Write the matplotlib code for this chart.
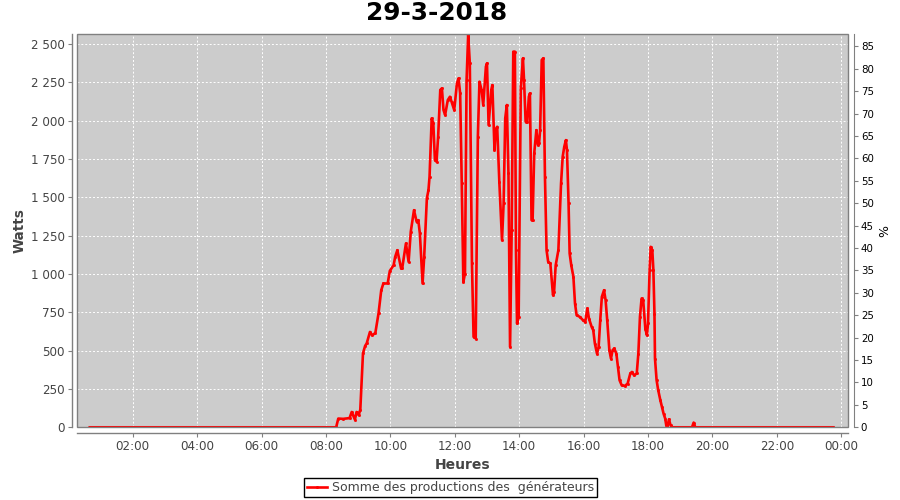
import matplotlib
matplotlib.use("Agg")
import matplotlib.pyplot as plt
from matplotlib.ticker import FixedLocator, FuncFormatter
from matplotlib.patches import Rectangle
from matplotlib.lines import Line2D

plt.rcParams['font.family'] = ['DejaVu Sans']

title = "29-3-2018"
series_label = "Somme des productions des  générateurs"

times = ["00:40", "08:19", "08:23", "08:32", "08:44", "08:48", "08:54", "08:57", "09:01", "09:04",
         "09:09", "09:13", "09:16", "09:22", "09:26", "09:32", "09:38", "09:43", "09:47", "09:55",
         "09:59", "10:06", "10:09", "10:13", "10:20", "10:22", "10:29", "10:34", "10:38", "10:44",
         "10:49", "10:52", "10:55", "11:00", "11:03", "11:08", "11:11", "11:13", "11:17", "11:20",
         "11:23", "11:26", "11:29", "11:33", "11:36", "11:39", "11:42", "11:47", "11:51", "11:54",
         "11:59", "12:04", "12:07", "12:10", "12:13", "12:16", "12:19", "12:22", "12:25", "12:28",
         "12:32", "12:35", "12:39", "12:43", "12:46", "12:50", "12:53", "12:58", "13:00", "13:03",
         "13:08", "13:10", "13:14", "13:16", "13:19", "13:23", "13:28", "13:31", "13:34", "13:37",
         "13:40", "13:43", "13:46", "13:49", "13:52", "13:54", "13:56", "13:59", "14:03", "14:07",
         "14:09", "14:12", "14:15", "14:18", "14:20", "14:23", "14:25", "14:28", "14:32", "14:35",
         "14:37", "14:39", "14:42", "14:45", "14:48", "14:51", "14:54", "14:58", "15:03", "15:05",
         "15:08", "15:13", "15:18", "15:21", "15:24", "15:27", "15:29", "15:32", "15:34", "15:37",
         "15:41", "15:44", "15:47", "15:53", "15:59", "16:03", "16:07", "16:10", "16:15", "16:18",
         "16:21", "16:25", "16:28", "16:31", "16:34", "16:38", "16:41", "16:44", "16:48", "16:51",
         "16:54", "16:57", "17:01", "17:04", "17:07", "17:11", "17:17", "17:22", "17:27", "17:30",
         "17:34", "17:39", "17:42", "17:45", "17:48", "17:51", "17:55", "17:58", "18:00", "18:03",
         "18:05", "18:08", "18:10", "18:12", "18:13", "18:16", "18:19", "18:23", "18:26", "18:29",
         "18:32", "18:34", "18:36", "18:39", "18:42", "18:45", "19:22", "19:25", "19:28", "23:45"]

watts = [0, 0, 57, 55, 60, 100, 50, 100, 80, 115,
         483, 531, 548, 622, 600, 615, 744, 894, 938, 938,
         1020, 1057, 1112, 1155, 1036, 1036, 1199, 1079, 1275, 1416,
         1340, 1351, 1264, 938, 1112, 1493, 1547, 1634, 2015, 1982,
         1743, 1732, 1895, 2200, 2211, 2069, 2037, 2134, 2156, 2123,
         2069, 2243, 2276, 2178, 1591, 948, 1003, 2265, 2560, 2374,
         1069, 590, 579, 1895, 2254, 2200, 2102, 2352, 2374, 1971,
         2200, 2232, 1808, 1938, 1960, 1601, 1221, 1460, 2015, 2102,
         1656, 524, 1286, 2450, 2450, 1155, 677, 720, 2211, 2407,
         2265, 1993, 1993, 2156, 2178, 1351, 1351, 1787, 1938, 1841,
         1852, 1938, 2396, 2407, 1634, 1155, 1079, 1069, 862, 883,
         1057, 1155, 1591, 1764, 1830, 1873, 1808, 1460, 1134, 1057,
         981, 807, 731, 720, 698, 687, 775, 709, 655, 633,
         546, 480, 524, 698, 851, 894, 829, 698, 503, 448,
         503, 514, 481, 394, 307, 274, 270, 285, 351, 361,
         339, 351, 481, 720, 840, 829, 644, 600, 677, 1025,
         1177, 1155, 1025, 742, 448, 307, 242, 176, 132, 89,
         57, 13, 0, 52, 13, 0, 0, 31, 0, 0]

x_ticks = [2, 4, 6, 8, 10, 12, 14, 16, 18, 20, 22, 24]
w_ticks = [0, 250, 500, 750, 1000, 1250, 1500, 1750, 2000, 2250, 2500]
pct_ticks = list(range(0, 90, 5))

hours = [int(t[:2]) + int(t[3:]) / 60 for t in times]

fig = plt.figure(figsize=(9, 5), dpi=100)
ax = fig.add_axes([0.0859, 0.1454, 0.9426 - 0.0859, 0.9314 - 0.1454])
ax.set_facecolor("#cccccc")

ax.plot(hours, watts, color="#ff0000", lw=1.9, marker="s", ms=1.0, zorder=3)

ax.set_xlim(0.28, 24.22)
ax.set_ylim(0, 2563)

ax.xaxis.set_major_locator(FixedLocator(x_ticks))
ax.xaxis.set_major_formatter(FuncFormatter(lambda v, p: "%02d:00" % (int(round(v)) % 24)))
ax.yaxis.set_major_locator(FixedLocator(w_ticks))
ax.yaxis.set_major_formatter(FuncFormatter(lambda v, p: f"{int(v):,}".replace(",", " ")))

ax.grid(True, color="white", linestyle=(0, (2, 2)), linewidth=0.7, zorder=1)
ax.set_axisbelow(True)

for s in ["left", "bottom"]:
    ax.spines[s].set_position(("outward", 4))
    ax.spines[s].set_color("#808080")
    ax.spines[s].set_linewidth(1.0)
ax.spines["top"].set_visible(False)
ax.spines["right"].set_visible(False)
ax.add_patch(Rectangle((0, 0), 1, 1, transform=ax.transAxes, fill=False,
                       edgecolor="#808080", lw=1.0, clip_on=False, zorder=4))

ax.tick_params(axis="both", colors="#808080", length=3, width=0.8, labelsize=8.6,
               labelcolor="#444444", pad=2)

ax.set_xlabel("Heures", fontsize=10, fontweight="bold", color="#444444", labelpad=4)
ax.set_ylabel("Watts", fontsize=9.8, fontweight="bold", color="#444444", labelpad=3)

ax2 = ax.twinx()
ax2.set_ylim(0, 87.7)
ax2.yaxis.set_major_locator(FixedLocator(pct_ticks))
for s in ["left", "bottom", "top"]:
    ax2.spines[s].set_visible(False)
ax2.spines["right"].set_position(("outward", 4))
ax2.spines["right"].set_color("#808080")
ax2.tick_params(axis="y", colors="#808080", length=3, width=0.8, labelsize=7.4,
                labelcolor="black", pad=2)
ax2.set_ylabel("%", fontsize=9, color="black", labelpad=3)

fig.text(0.4855, 0.973, title, ha="center", va="center", fontsize=17.8, fontweight="bold")

handle = Line2D([], [], color="#ff0000", lw=1.9, marker="s", ms=1.0)
leg = fig.legend([handle], [series_label], loc="center", bbox_to_anchor=(0.5006, 1 - 487.5 / 500),
                 frameon=True, fancybox=False, framealpha=1, edgecolor="black",
                 fontsize=9.0, handlelength=1.6, handletextpad=0.4, borderpad=0.25,
                 borderaxespad=0)
leg.get_frame().set_linewidth(1.0)
for t in leg.get_texts():
    t.set_color("#444444")

fig.savefig("out.png", dpi=100)
